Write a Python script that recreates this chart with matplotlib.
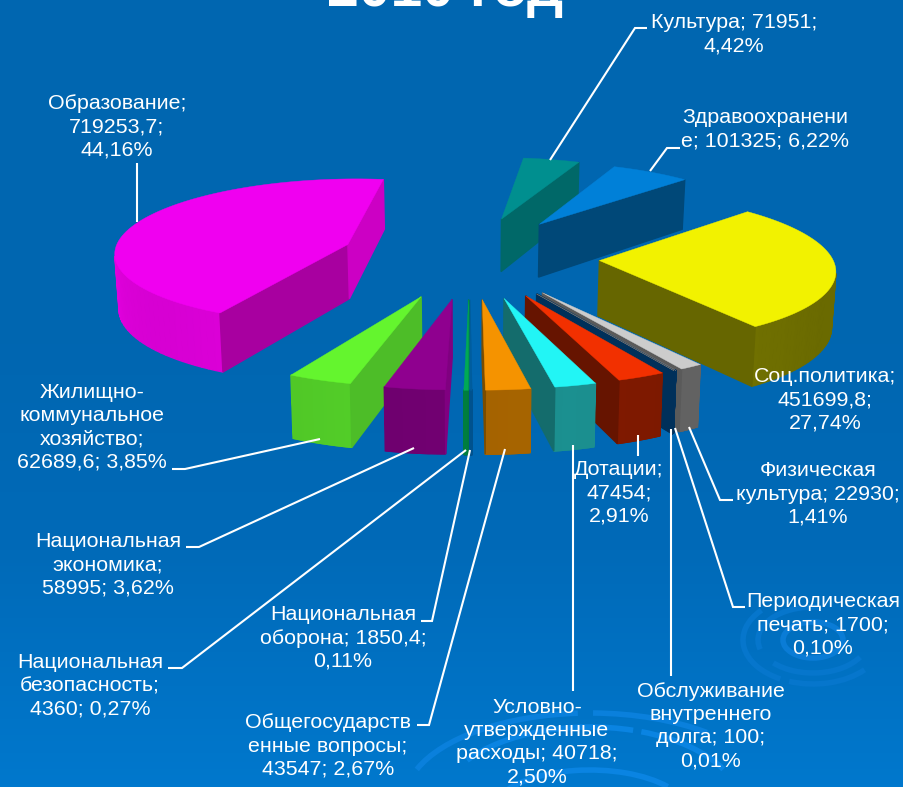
import numpy as np
import matplotlib
matplotlib.use('Agg')
import matplotlib.pyplot as plt
from matplotlib.patches import Arc, Polygon

plt.rcParams['font.family'] = ['Liberation Sans', 'DejaVu Sans']

values = [71951, 101325, 451699.8, 22930, 1700, 100, 47454, 40718, 43547, 1850.4, 4360, 58995, 62689.6, 719253.7]
labels = ['Культура; 71951;\n4,42%',
          'Здравоохранени\nе; 101325; 6,22%',
          'Соц.политика;\n451699,8;\n27,74%',
          'Физическая\nкультура; 22930;\n1,41%',
          'Периодическая\nпечать; 1700;\n0,10%',
          'Обслуживание\nвнутреннего\nдолга; 100;\n0,01%',
          'Дотации;\n47454;\n2,91%',
          'Условно-\nутвержденные\nрасходы; 40718;\n2,50%',
          'Общегосударств\nенные вопросы;\n43547; 2,67%',
          'Национальная\nоборона; 1850,4;\n0,11%',
          'Национальная\nбезопасность;\n4360; 0,27%',
          'Национальная\nэкономика;\n58995; 3,62%',
          'Жилищно-\nкоммунальное\nхозяйство;\n62689,6; 3,85%',
          'Образование;\n719253,7;\n44,16%']
label_x = [734, 765, 825, 818, 823, 711, 619, 537, 328, 343, 90, 108, 92, 117]
label_y = [34, 129, 400, 494, 625, 726, 493, 742, 746, 638, 686, 565, 427, 127]

top_colors = ['#008F8F', '#0080D8', '#F2F200', '#CCCCCC', '#7A7A7A', '#6E6E6E', '#F23000', '#22F5F5',
              '#F59300', '#005C9C', '#00AA55', '#8F008F', '#64F52E', '#F000F0']
wall_colors = ['#006868', '#004878', '#666600', '#5A5A5A', '#00305A', '#00305A', '#661400', '#146C6C',
               '#7A4C00', '#00508A', '#007A3C', '#800080', '#4DBD28', '#A800A0']
arc_colors = ['#006E6E', '#004C80', '#6E6E00', '#606060', '#00305A', '#00305A', '#7A1800', '#1A8A8A',
              '#A06000', '#00508A', '#007A3C', '#6E006E', '#52CC28', '#E000DC']
wall2_education = '#CC00C4'

leaders = [[(550, 160), (635, 28), (647, 28)],
           [(650, 171), (667, 148), (680, 148)],
           [(689, 427), (720, 500), (733, 500)],
           [(675, 428), (733, 607), (745, 607)],
           [(671, 429), (671, 676)],
           [(638, 435), (638, 456)],
           [(573, 445), (573, 691)],
           [(505, 449), (429, 725), (417, 725)],
           [(470, 450), (432, 621), (421, 621)],
           [(466, 450), (182, 668), (168, 668)],
           [(414, 448), (199, 547), (186, 547)],
           [(320, 439), (185, 469), (172, 469)],
           [(137, 222), (137, 163)]]

# spirals of the slide background: centre, size, start and end angle, colour
swirls = [(590, 800, 370, 174, 190, 262, '#0A80DC'), (590, 800, 370, 174, 272, 330, '#0A80DC'),
          (590, 805, 300, 156, 200, 300, '#0A84E2'), (590, 805, 300, 156, 305, 345, '#0A84E2'),
          (590, 815, 200, 90, 190, 340, '#0A84E2'), (590, 815, 120, 50, 180, 350, '#0A84E2'),
          (813, 640, 60, 36, 0, 360, '#0A7CD6'), (813, 640, 110, 66, 20, 150, '#0676CC'),
          (813, 640, 110, 66, 170, 280, '#0676CC'), (813, 640, 140, 88, 30, 120, '#0676CC'),
          (813, 640, 140, 88, 130, 210, '#0676CC')]

# projection of the pie plane to the picture, fitted on the slice corners
PROJ = [211.84, 109.41, 469.85, 15.30, -47.69, 256.71, -0.0252, 0.0884]
START = np.radians(-10)
EXPLODE = 0.5545
HEIGHT = 55


def project(X, Y):
    a, b, c, d, e, f, g, h = PROJ
    w = 1 + g * X + h * Y
    return (a * X + b * Y + c) / w, (d * X + e * Y + f) / w, w


def drop(X, Y):
    x, y, w = project(X, Y)
    return x + (470 - x) * 0.012, y + HEIGHT / w


fig = plt.figure(figsize=(9.04, 7.87), dpi=100)
ax = fig.add_axes([0, 0, 1, 1])
ax.set_xlim(0, 904)
ax.set_ylim(787, 0)
ax.axis('off')

# background gradient
grad = np.array([[0, 102, 176], [0, 102, 176], [0, 106, 184], [0, 120, 205]]) / 255
stops = np.interp(np.linspace(0, 1, 256), [0, 0.4, 0.7, 1], [0, 1, 2, 3])
rows = np.array([np.interp(stops, range(4), grad[:, i]) for i in range(3)]).T[:, None, :]
ax.imshow(rows, extent=(0, 904, 787, 0), aspect='auto', zorder=0)

for cx, cy, w, h, t1, t2, col in swirls:
    ax.add_patch(Arc((cx, cy), w, h, theta1=t1, theta2=t2, color=col, lw=4, zorder=1))

vals = np.array(values)
edges = np.concatenate([[0], np.cumsum(vals / vals.sum())]) * 2 * np.pi


def face(pts_a, pts_b, color):
    # pts are plane coords of one wall edge, drawn only when it looks at the viewer
    xa, ya, _ = project(*pts_a)
    xb, yb, _ = project(*pts_b)
    xc, yc = drop(*pts_b)
    xd, yd = drop(*pts_a)
    q = [(xa, ya), (xb, yb), (xc, yc), (xd, yd)]
    area = sum(q[i][0] * q[(i + 1) % 4][1] - q[(i + 1) % 4][0] * q[i][1] for i in range(4))
    if area < 0:
        ax.add_patch(Polygon(q, fc=color, ec=color, lw=1.0, zorder=order))


# draw back slices first, depth is how low the slice middle sits on screen
mids = [(edges[i] + edges[i + 1]) / 2 + START for i in range(len(vals))]
depth = [project(np.sin(m), np.cos(m))[1] for m in mids]
for rank, i in enumerate(np.argsort(depth)):
    order = 2 + rank
    t = np.linspace(edges[i], edges[i + 1], 80) + START
    ax0 = EXPLODE * np.sin(mids[i])
    ay0 = EXPLODE * np.cos(mids[i])
    rim = [(ax0 + np.sin(v), ay0 + np.cos(v)) for v in t]
    wall2 = wall2_education if i == 13 else wall_colors[i]
    base = np.array(matplotlib.colors.to_rgb(arc_colors[i]))
    for j in range(len(rim) - 1):
        band = 1 + 0.04 * np.sin(3 * t[j])
        face(rim[j], rim[j + 1], tuple(np.clip(base * band, 0, 1)))
    face((ax0, ay0), rim[0], wall_colors[i])
    face(rim[-1], (ax0, ay0), wall2)
    top = [project(X, Y)[:2] for X, Y in [(ax0, ay0)] + rim]
    ax.add_patch(Polygon(top, fc=top_colors[i], ec=top_colors[i], lw=0.3, zorder=order))

for line in leaders:
    xs, ys = zip(*line)
    ax.plot(xs, ys, color='white', lw=1.5, zorder=30, solid_capstyle='butt', solid_joinstyle='miter')

for txt, x, y in zip(labels, label_x, label_y):
    ax.text(x, y, txt, color='white', fontsize=15.4, ha='center', va='center', linespacing=1.27, zorder=40)

ax.text(445, 6, '2010 год', color='white', fontsize=41, fontweight='bold', ha='center', va='baseline', zorder=40)

fig.savefig('out.png', dpi=100)
